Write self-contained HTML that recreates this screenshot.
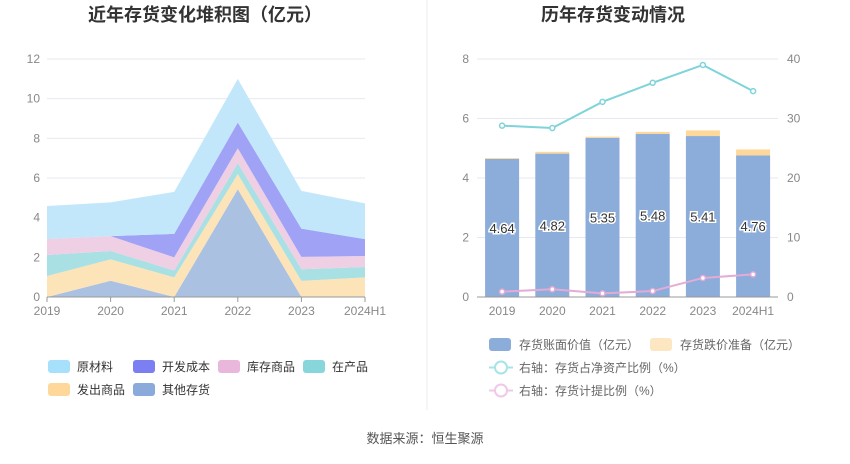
<!DOCTYPE html>
<html><head><meta charset="utf-8"><style>
body{margin:0;width:850px;height:459px;background:#fff;font-family:"Liberation Sans","Noto Sans CJK SC",sans-serif;overflow:hidden}
svg text{font-family:"Liberation Sans","Noto Sans CJK SC",sans-serif}
</style></head><body>
<svg id="c" width="850" height="459">
<text x="205" y="21" text-anchor="middle" font-size="18" font-weight="bold" fill="#333">近年存货变化堆积图（亿元）</text>
<text x="613" y="21" text-anchor="middle" font-size="18" font-weight="bold" fill="#333">历年存货变动情况</text>
<line x1="427" y1="0" x2="427" y2="410" stroke="#eee"/>
<text x="425" y="443" text-anchor="middle" font-size="13" fill="#555">数据来源：恒生聚源</text>
<g id="left"></g><g id="right"></g>
</svg>
<script>
const NS='http://www.w3.org/2000/svg';
function mk(p,t,a,txt){const e=document.createElementNS(NS,t);for(const k in a)e.setAttribute(k,a[k]);if(txt!==undefined)e.textContent=txt;p.appendChild(e);return e;}
// left chart data
const years=['2019','2020','2021','2022','2023','2024H1'];
const qita=[0,0.82,0,5.43,0,0];
const fachu=[1.06,1.08,0.99,0.77,0.81,0.99];
const zaichan=[1.06,0.42,0.34,0.55,0.59,0.52];
const kucun=[0.8,0.75,0.67,0.75,0.62,0.56];
const kaifa=[0,0,1.18,1.3,1.43,0.85];
const yuancailiao=[1.67,1.7,2.12,2.2,1.9,1.8];
const leftTicks=[0,2,4,6,8,10,12];
// right chart data
const bookValue=[4.64,4.82,5.35,5.48,5.41,4.76];
const reserve=[0.03,0.06,0.04,0.07,0.19,0.20];
const netAssetRatio=[28.8,28.4,32.8,36.0,39.0,34.6];
const provisionRatio=[0.9,1.3,0.6,1.0,3.2,3.8];
const rightTicksL=[0,2,4,6,8];
const rightTicksR=[0,10,20,30,40];

const L=document.getElementById('left');
const lx=i=>47+i*63.6, ly=v=>297-v*238/12;
leftTicks.forEach(t=>{
 const g=mk(L,'line',{x1:47,x2:365,y1:ly(t),y2:ly(t),stroke:t?'#e6e9f0':'#999'});
 
 
 const tx=mk(L,'text',{x:40,y:ly(t)+4,'text-anchor':'end','font-size':12,fill:'#888'},t);
 
 
});
years.forEach((y,i)=>{
 mk(L,'line',{x1:lx(i),x2:lx(i),y1:297,y2:302,stroke:'#999'});
 const tx=mk(L,'text',{x:lx(i),y:315,'text-anchor':'middle','font-size':12,fill:'#888'},y);
 
 
});
const series=[['其他存货',qita,'#abc1e2','#8aaadb'],['发出商品',fachu,'#fde3b8','#fdd89a'],['在产品',zaichan,'#a8e0e3','#87d6dc'],['库存商品',kucun,'#eecfe4','#e9b6dc'],['开发成本',kaifa,'#a0a3f5','#7b7ff2'],['原材料',yuancailiao,'#c3e7fa','#a6e0fb']];
let base=years.map(()=>0);
series.forEach(s=>{
 const top=base.map((b,i)=>b+s[1][i]);
 let d='M'+top.map((v,i)=>lx(i)+','+ly(v)).join('L');
 for(let i=years.length-1;i>=0;i--)d+='L'+lx(i)+','+ly(base[i]);
 const p=mk(L,'path',{d:d+'Z',fill:s[2]});
 
 
 base=top;
});
mk(L,'line',{x1:47,x2:365,y1:297,y2:297,stroke:'#999'});
const legOrder=[5,4,3,2,1,0];
legOrder.forEach((si,k)=>{
 const x=48+(k%4)*85,y=k<4?360:383;
 const g=mk(L,'g',{});
 
 
 mk(g,'rect',{x:x,y:y,width:22,height:13,rx:3,fill:series[si][3]});
 mk(g,'text',{x:x+29,y:y+11,'font-size':12,fill:'#333'},series[si][0]);
});
// right
const R=document.getElementById('right');
const rx=i=>477+(i+0.5)*50.2, ry=v=>297-v*238/8, ry2=v=>297-v*238/40;
rightTicksL.forEach((t,k)=>{
 const g=mk(R,'line',{x1:477,x2:778,y1:ry(t),y2:ry(t),stroke:t?'#e6e9f0':'#999'});
 
 
 const a=mk(R,'text',{x:469,y:ry(t)+4,'text-anchor':'end','font-size':12,fill:'#888'},t);
 
 
 const b=mk(R,'text',{x:787,y:ry(t)+4,'font-size':12,fill:'#888'},rightTicksR[k]);
 
 
});
years.forEach((y,i)=>{
 const tx=mk(R,'text',{x:rx(i),y:315,'text-anchor':'middle','font-size':12,fill:'#888'},y);
 
 
 const b=mk(R,'rect',{x:rx(i)-17,y:ry(bookValue[i]),width:34,height:ry(0)-ry(bookValue[i]),fill:'#8cacda'});
 
 
 const r=mk(R,'rect',{x:rx(i)-17,y:ry(bookValue[i]+reserve[i]),width:34,height:ry(0)-ry(reserve[i]),fill:'#fdd89a'});
 
 
 const l=mk(R,'text',{x:rx(i),y:ry(bookValue[i]/2)+5,'text-anchor':'middle','font-size':13,fill:'#333',stroke:'#fff','stroke-width':3,'paint-order':'stroke'},bookValue[i].toFixed(2));
 
 
});
mk(R,'line',{x1:477,x2:778,y1:297,y2:297,stroke:'#999'});
[[netAssetRatio,'#7fd4d9','line-net-asset-ratio'],[provisionRatio,'#e3abd5','line-provision-ratio']].forEach(s=>{
 const p=mk(R,'polyline',{points:s[0].map((v,i)=>rx(i)+','+ry2(v)).join(' '),fill:'none',stroke:s[1],'stroke-width':2});
 
 
 s[0].forEach((v,i)=>{const c=mk(R,'circle',{cx:rx(i),cy:ry2(v),r:2.5,fill:'#fff',stroke:s[1],'stroke-width':1.5});
 
 });
});
const rl=[[489,338,'rect','#8cacda','存货账面价值（亿元）'],[650,338,'rect','#fde7c2','存货跌价准备（亿元）'],[489,361,'line','#a8e3e6','右轴：存货占净资产比例（%）'],[489,384,'line','#efc9e5','右轴：存货计提比例（%）']];
rl.forEach(o=>{
 const g=mk(R,'g',{});
 
 
 if(o[2]=='rect')mk(g,'rect',{x:o[0],y:o[1],width:22,height:13,rx:3,fill:o[3]});
 else{mk(g,'line',{x1:o[0],x2:o[0]+24,y1:o[1]+6.5,y2:o[1]+6.5,stroke:o[3],'stroke-width':2});mk(g,'circle',{cx:o[0]+12,cy:o[1]+6.5,r:6,fill:'#fff',stroke:o[3],'stroke-width':2});}
 mk(g,'text',{x:o[0]+30,y:o[1]+11,'font-size':12,fill:'#666'},o[4]);
});
</script>
</body></html>
